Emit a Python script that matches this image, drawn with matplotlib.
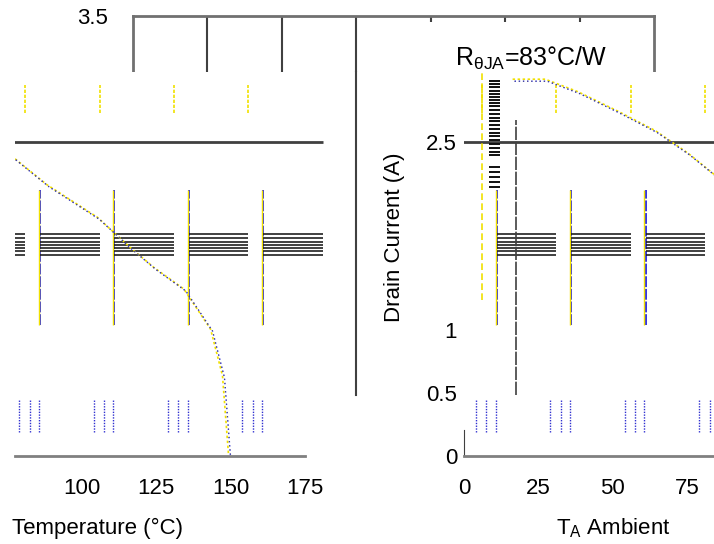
import matplotlib
matplotlib.use("Agg")
import matplotlib.pyplot as plt
import matplotlib.transforms as mtransforms

plt.rcParams["font.family"] = ["Liberation Sans", "DejaVu Sans"]
plt.rcParams["mathtext.default"] = "regular"

# derating curve
temp = [17, 28, 39, 52, 65, 76, 89, 106, 117, 125, 135, 144, 148, 150]
current = [2.98, 2.98, 2.88, 2.73, 2.57, 2.39, 2.14, 1.88, 1.64, 1.48, 1.31, 0.99, 0.62, 0.0]

x_ticks_right = [0, 25, 50, 75]
x_ticks_left = [100, 125, 150, 175]
y_ticks = [0, 0.5, 1, 2.5]
y_tick_labels = ["0", "0.5", "1", "2.5"]
grid_y = 2.5

# the broken grid pieces of the picture
blue_grid = [11, 36, 61, 86, 111, 136, 161]
yellow_grid = [6, 31, 56, 81, 106, 131, 156]
band_y = [1.60, 1.625, 1.65, 1.675, 1.70, 1.73, 1.76]
block_y = [2.98, 2.955, 2.93, 2.905, 2.88, 2.855, 2.83, 2.805, 2.78, 2.75, 2.72, 2.69,
           2.66, 2.63, 2.6, 2.57, 2.54, 2.51, 2.48, 2.45, 2.42, 2.39, 2.3, 2.26, 2.22, 2.18, 2.14]

W, H = 714, 544
S = 74.4 / 25     # px per degree
V = 125.6         # px per amp
Y0 = 455.5        # px of 0 A

fig = plt.figure(figsize=(W / 100, H / 100), dpi=100)


def px_axes(x0, y0, x1, y1):
    return fig.add_axes([x0 / W, 1 - y1 / H, (x1 - x0) / W, (y1 - y0) / H])


def draw_pieces(ax):
    ax.hlines(grid_y, -50, 181, color="#404040", lw=2)
    for x in blue_grid:
        ax.vlines(x, 1.04, 2.11, color="#2020e0", lw=1.3, ls=(0, (6, 1)))
        ax.vlines(x - 0.35, 1.04, 2.11, color="#f0e000", lw=1.0)
        ax.hlines(band_y, x, x + 20, color="#202020", lw=1.2)
        for dx in [-7, -3.5, -0.4]:
            ax.vlines(x + dx, 0.19, 0.44, color="#3030d0", lw=1.0, ls=(0, (1, 1)))
    for x in yellow_grid:
        ax.vlines(x, 2.73, 2.95, color="#f0e000", lw=1.2, ls=(0, (2, 1)))


def draw_curve(ax):
    off = mtransforms.offset_copy(ax.transData, fig=fig, x=-2, y=2, units="dots")
    ax.plot(temp, current, color="#f0e000", lw=1.2, ls=(0, (1.5, 1.5)), transform=off)
    ax.plot(temp, current, color="#3030e0", lw=1.0, ls=(0, (1, 2)))
    ax.plot(temp, current, color="#505050", lw=0.6, ls=(0, (1, 4)))


top = (Y0 - 72) / V

# top strip: original frame
ax_a = px_axes(133, 16, 654, 72)
ax_a.set_xlim(0, 175)
ax_a.set_ylim(3.5 - 56 / V, 3.5)
for s in ["top", "left", "right"]:
    ax_a.spines[s].set_color("#707070")
    ax_a.spines[s].set_linewidth(2)
ax_a.spines["bottom"].set_visible(False)
ax_a.set_yticks([3.5])
ax_a.tick_params(axis="y", length=0, pad=18, labelsize=16)
ax_a.set_xticks([100, 125, 150])
ax_a.tick_params(axis="x", bottom=False, top=True, direction="in", length=4,
                 width=1.5, color="#404040", labelbottom=False)
for x in [25, 50, 75]:
    ax_a.axvline(x, color="#404040", lw=1.5)
ax_a.text(108, 3.16, r"R$_{\theta JA}$=83°C/W", fontsize=18, va="center")

# left part: right side of the chart
ax_c = px_axes(15, 72, 356, Y0)
ax_c.set_xlim(77.6, 192.2)
ax_c.set_ylim(0, top)
ax_c.spines["top"].set_visible(False)
ax_c.spines["left"].set_visible(False)
ax_c.spines["bottom"].set_color("#808080")
ax_c.spines["bottom"].set_linewidth(2)
ax_c.spines["bottom"].set_bounds(77.6, 175)
ax_c.spines["right"].set_color("#404040")
ax_c.spines["right"].set_linewidth(1.5)
ax_c.spines["right"].set_bounds(0.48, top)
ax_c.set_yticks([])
ax_c.set_xticks(x_ticks_left)
ax_c.tick_params(axis="x", length=0, pad=16, labelsize=16)
draw_pieces(ax_c)
draw_curve(ax_c)
ax_c.text(76.6, -0.19, "Temperature (°C)", fontsize=16, ha="left", va="center",
          transform=ax_c.get_xaxis_transform())

# right part: left side of the chart
ax_b = px_axes(464, 72, 714, Y0)
ax_b.set_xlim(0, 250 / S)
ax_b.set_ylim(0, top)
ax_b.spines["top"].set_visible(False)
ax_b.spines["right"].set_visible(False)
ax_b.spines["bottom"].set_color("#808080")
ax_b.spines["bottom"].set_linewidth(2)
ax_b.spines["left"].set_color("#404040")
ax_b.spines["left"].set_bounds(0, 0.2)
ax_b.set_xticks(x_ticks_right)
ax_b.set_yticks(y_ticks, y_tick_labels)
ax_b.tick_params(axis="x", length=0, pad=16, labelsize=16)
ax_b.tick_params(axis="y", length=0, pad=5, labelsize=16)
draw_pieces(ax_b)
ax_b.vlines(17.5, 0.48, 2.67, color="#404040", lw=1.2, ls=(0, (8, 1)))
ax_b.vlines(6, 1.24, 3.05, color="#f0e000", lw=1.2, ls=(0, (4, 2)))
ax_b.hlines(block_y, 8.5, 12, color="#101010", lw=1.4)
draw_curve(ax_b)
ax_b.set_ylabel("Drain Current (A)", fontsize=16)
ax_b.yaxis.set_label_coords(-0.236, 0.57)
ax_b.text(31, -0.19, "T$_A$ Ambient", fontsize=16, ha="left", va="center",
          transform=ax_b.get_xaxis_transform())

fig.savefig("out.png", dpi=100)
